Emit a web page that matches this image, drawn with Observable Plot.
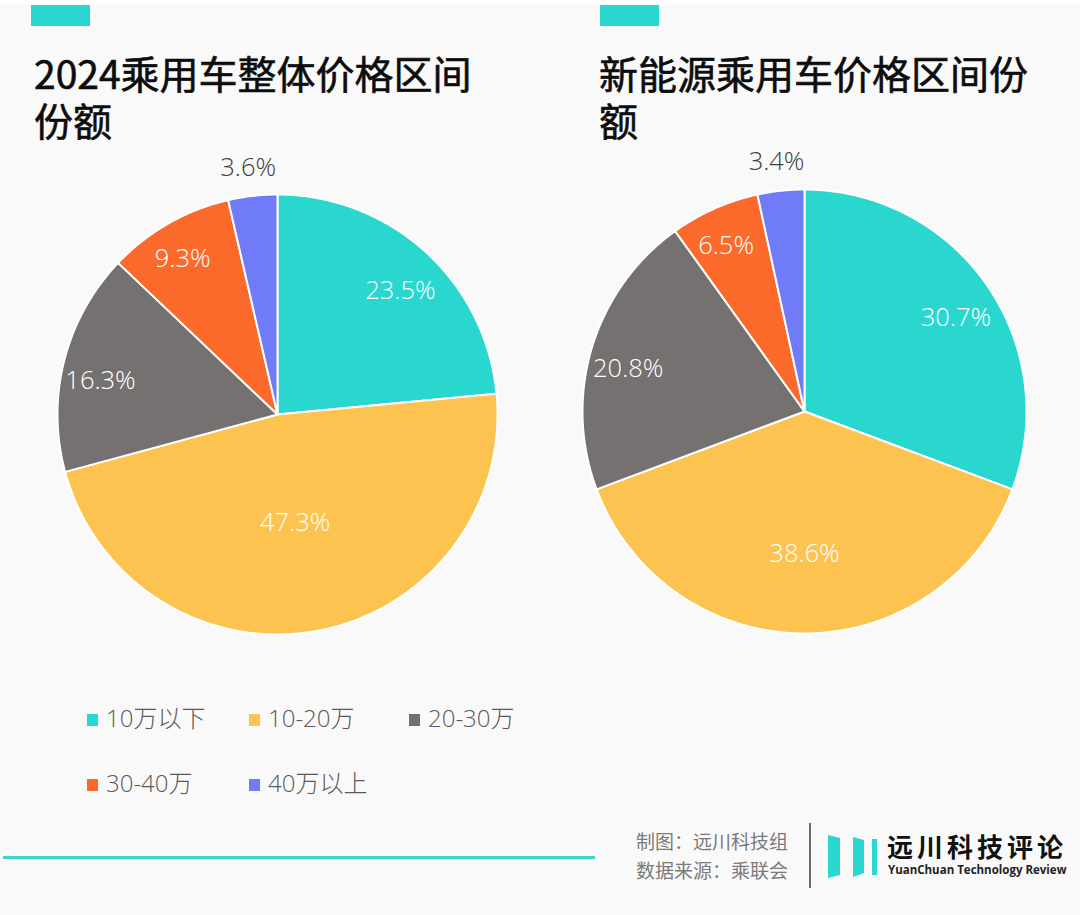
<!DOCTYPE html>
<html>
<head>
<meta charset="utf-8">
<script src="https://cdn.jsdelivr.net/npm/d3@7"></script>
<script src="https://cdn.jsdelivr.net/npm/@observablehq/plot@0.6"></script>
<style>
  html, body { margin: 0; padding: 0; background: #ffffff; }
  #page { position: relative; width: 1080px; height: 915px; overflow: hidden; background: #f9f9f9; }
  #page .topstrip { position: absolute; left: 0; top: 0; width: 1080px; height: 4px; background: #ffffff; }
  .tag { position: absolute; height: 21px; width: 59px; background: #2ad7cf; top: 5px; }
  .title { position: absolute; font-family: "Noto Sans CJK SC", sans-serif; font-weight: 400; font-size: 39px; line-height: 46px; height: 46px; color: #0d0d0d; white-space: nowrap; -webkit-text-stroke: 0.6px #0d0d0d; }
  .plot { position: absolute; top: 150px; }
  .legend-item { position: absolute; font-family: "Open Sans", "Noto Sans CJK SC", sans-serif; font-weight: 300; font-size: 24px; color: #595959; white-space: nowrap; line-height: 30px; }
  .legend-item .sw { display: inline-block; width: 11px; height: 12px; margin-right: 8px; vertical-align: 1px; }
  .rule { position: absolute; left: 3px; top: 856px; width: 592px; height: 3px; background: #3fd3cc; }
  .credit { position: absolute; left: 636px; font-family: "Noto Sans CJK SC", sans-serif; font-size: 19px; color: #7a7a7a; white-space: nowrap; line-height: 24px; height: 24px; }
  .divider { position: absolute; left: 809px; top: 823px; width: 2px; height: 65px; background: #6b6b6b; }
  .brand { position: absolute; left: 887px; top: 831px; font-family: "Noto Sans CJK SC", sans-serif; font-weight: 700; font-size: 26px; letter-spacing: 4px; color: #111; white-space: nowrap; line-height: 30px; height: 30px; }
  .brand-en { position: absolute; left: 888px; top: 863px; font-family: "Open Sans", sans-serif; font-weight: 700; font-size: 11.5px; color: #222; white-space: nowrap; line-height: 13px; height: 13px; }
  .logo { position: absolute; left: 826px; top: 833px; }
</style>
</head>
<body>
<div id="page">
  <div class="topstrip"></div>
  <div class="tag" style="left:31px"></div>
  <div class="tag" style="left:600px"></div>
  <div class="title" style="left:34px; top:49px">2024乘用车整体价格区间</div>
  <div class="title" style="left:34px; top:96px">份额</div>
  <div class="title" style="left:599px; top:49px">新能源乘用车价格区间份</div>
  <div class="title" style="left:599px; top:96px">额</div>
  <div id="plotA" class="plot" style="left:0px"></div>
  <div id="plotB" class="plot" style="left:540px"></div>
  <div id="legend"></div>
  <div class="rule"></div>
  <div class="credit" style="top:829px">制图：远川科技组</div>
  <div class="credit" style="top:858px">数据来源：乘联会</div>
  <div class="divider"></div>
  <svg class="logo" width="56" height="50" viewBox="0 0 56 50">
    <polygon points="2,2 14,5 14,42 2,45" fill="#2ad7cf"/>
    <polygon points="27,4 38,7 38,40 27,44" fill="#2ad7cf"/>
    <rect x="46" y="6" width="5" height="36" fill="#2ad7cf"/>
  </svg>
  <div class="brand">远川科技评论</div>
  <div class="brand-en">YuanChuan Technology Review</div>
</div>
<script>
// ---- data ----
const categories = ["10万以下", "10-20万", "20-30万", "30-40万", "40万以上"];
const colors = ["#2ad7cf", "#fdc350", "#767171", "#fb6a2b", "#6f7bf7"];
const overallShares = [23.5, 47.3, 16.3, 9.3, 3.6];
const nevShares = [30.7, 38.6, 20.8, 6.5, 3.4];

// ---- pie built from values through Plot scales ----
function labelRadius(pct) {
  if (pct < 5) return 1.18;
  if (pct >= 45) return 0.45;
  if (pct >= 35) return 0.59;
  if (pct < 10) return 0.87;
  return 0.83;
}

function pieChart(shares, cx, cy, r, width, height) {
  const total = d3.sum(shares);
  const polys = [];
  const labels = [];
  let acc = 0;
  shares.forEach((v, i) => {
    const a0 = acc / total * 2 * Math.PI;
    const a1 = (acc + v) / total * 2 * Math.PI;
    acc += v;
    const cat = categories[i];
    polys.push({cat, x: 0, y: 0});
    const n = Math.max(2, Math.ceil((a1 - a0) / (Math.PI / 360)));
    for (let k = 0; k <= n; k++) {
      const a = a0 + (a1 - a0) * k / n;
      polys.push({cat, x: Math.sin(a), y: Math.cos(a)});
    }
    const am = (a0 + a1) / 2;
    const pct = v / total * 100;
    const lr = labelRadius(pct);
    labels.push({cat, x: lr * Math.sin(am), y: lr * Math.cos(am),
                 text: v.toFixed(1) + "%", outside: pct < 5});
  });
  return Plot.plot({
    width, height,
    margin: 0,
    style: {background: "transparent", overflow: "visible"},
    x: {domain: [-1, 1], range: [cx - r, cx + r], axis: null},
    y: {domain: [-1, 1], range: [cy + r, cy - r], axis: null},
    color: {domain: categories, range: colors},
    marks: [
      Plot.line(polys, {x: "x", y: "y", z: "cat", fill: "cat", stroke: "#ffffff",
                        strokeWidth: 2, strokeLinejoin: "round", curve: "linear-closed"}),
      Plot.text(labels, {x: "x", y: "y", text: "text", dy: 11,
                         fill: d => d.outside ? "#404040" : "#ffffff",
                         fontSize: 25.5, fontWeight: 300,
                         fontFamily: "'Open Sans', 'Noto Sans', sans-serif",
                         textAnchor: "middle", lineAnchor: "middle"})
    ]
  });
}

document.getElementById("plotA").appendChild(pieChart(overallShares, 277, 264, 220, 540, 510));
document.getElementById("plotB").appendChild(pieChart(nevShares, 264, 261, 222, 540, 510));

// ---- legend ----
const legendCols = [87, 249, 409];
const legendRows = [703, 768];
const legend = document.getElementById("legend");
categories.forEach((c, i) => {
  const el = document.createElement("div");
  el.className = "legend-item";
  el.style.left = legendCols[i % 3] + "px";
  el.style.top = legendRows[Math.floor(i / 3)] + "px";
  const sw = document.createElement("span");
  sw.className = "sw";
  sw.style.background = colors[i];
  el.appendChild(sw);
  el.appendChild(document.createTextNode(c));
  legend.appendChild(el);
});
</script>
</body>
</html>
